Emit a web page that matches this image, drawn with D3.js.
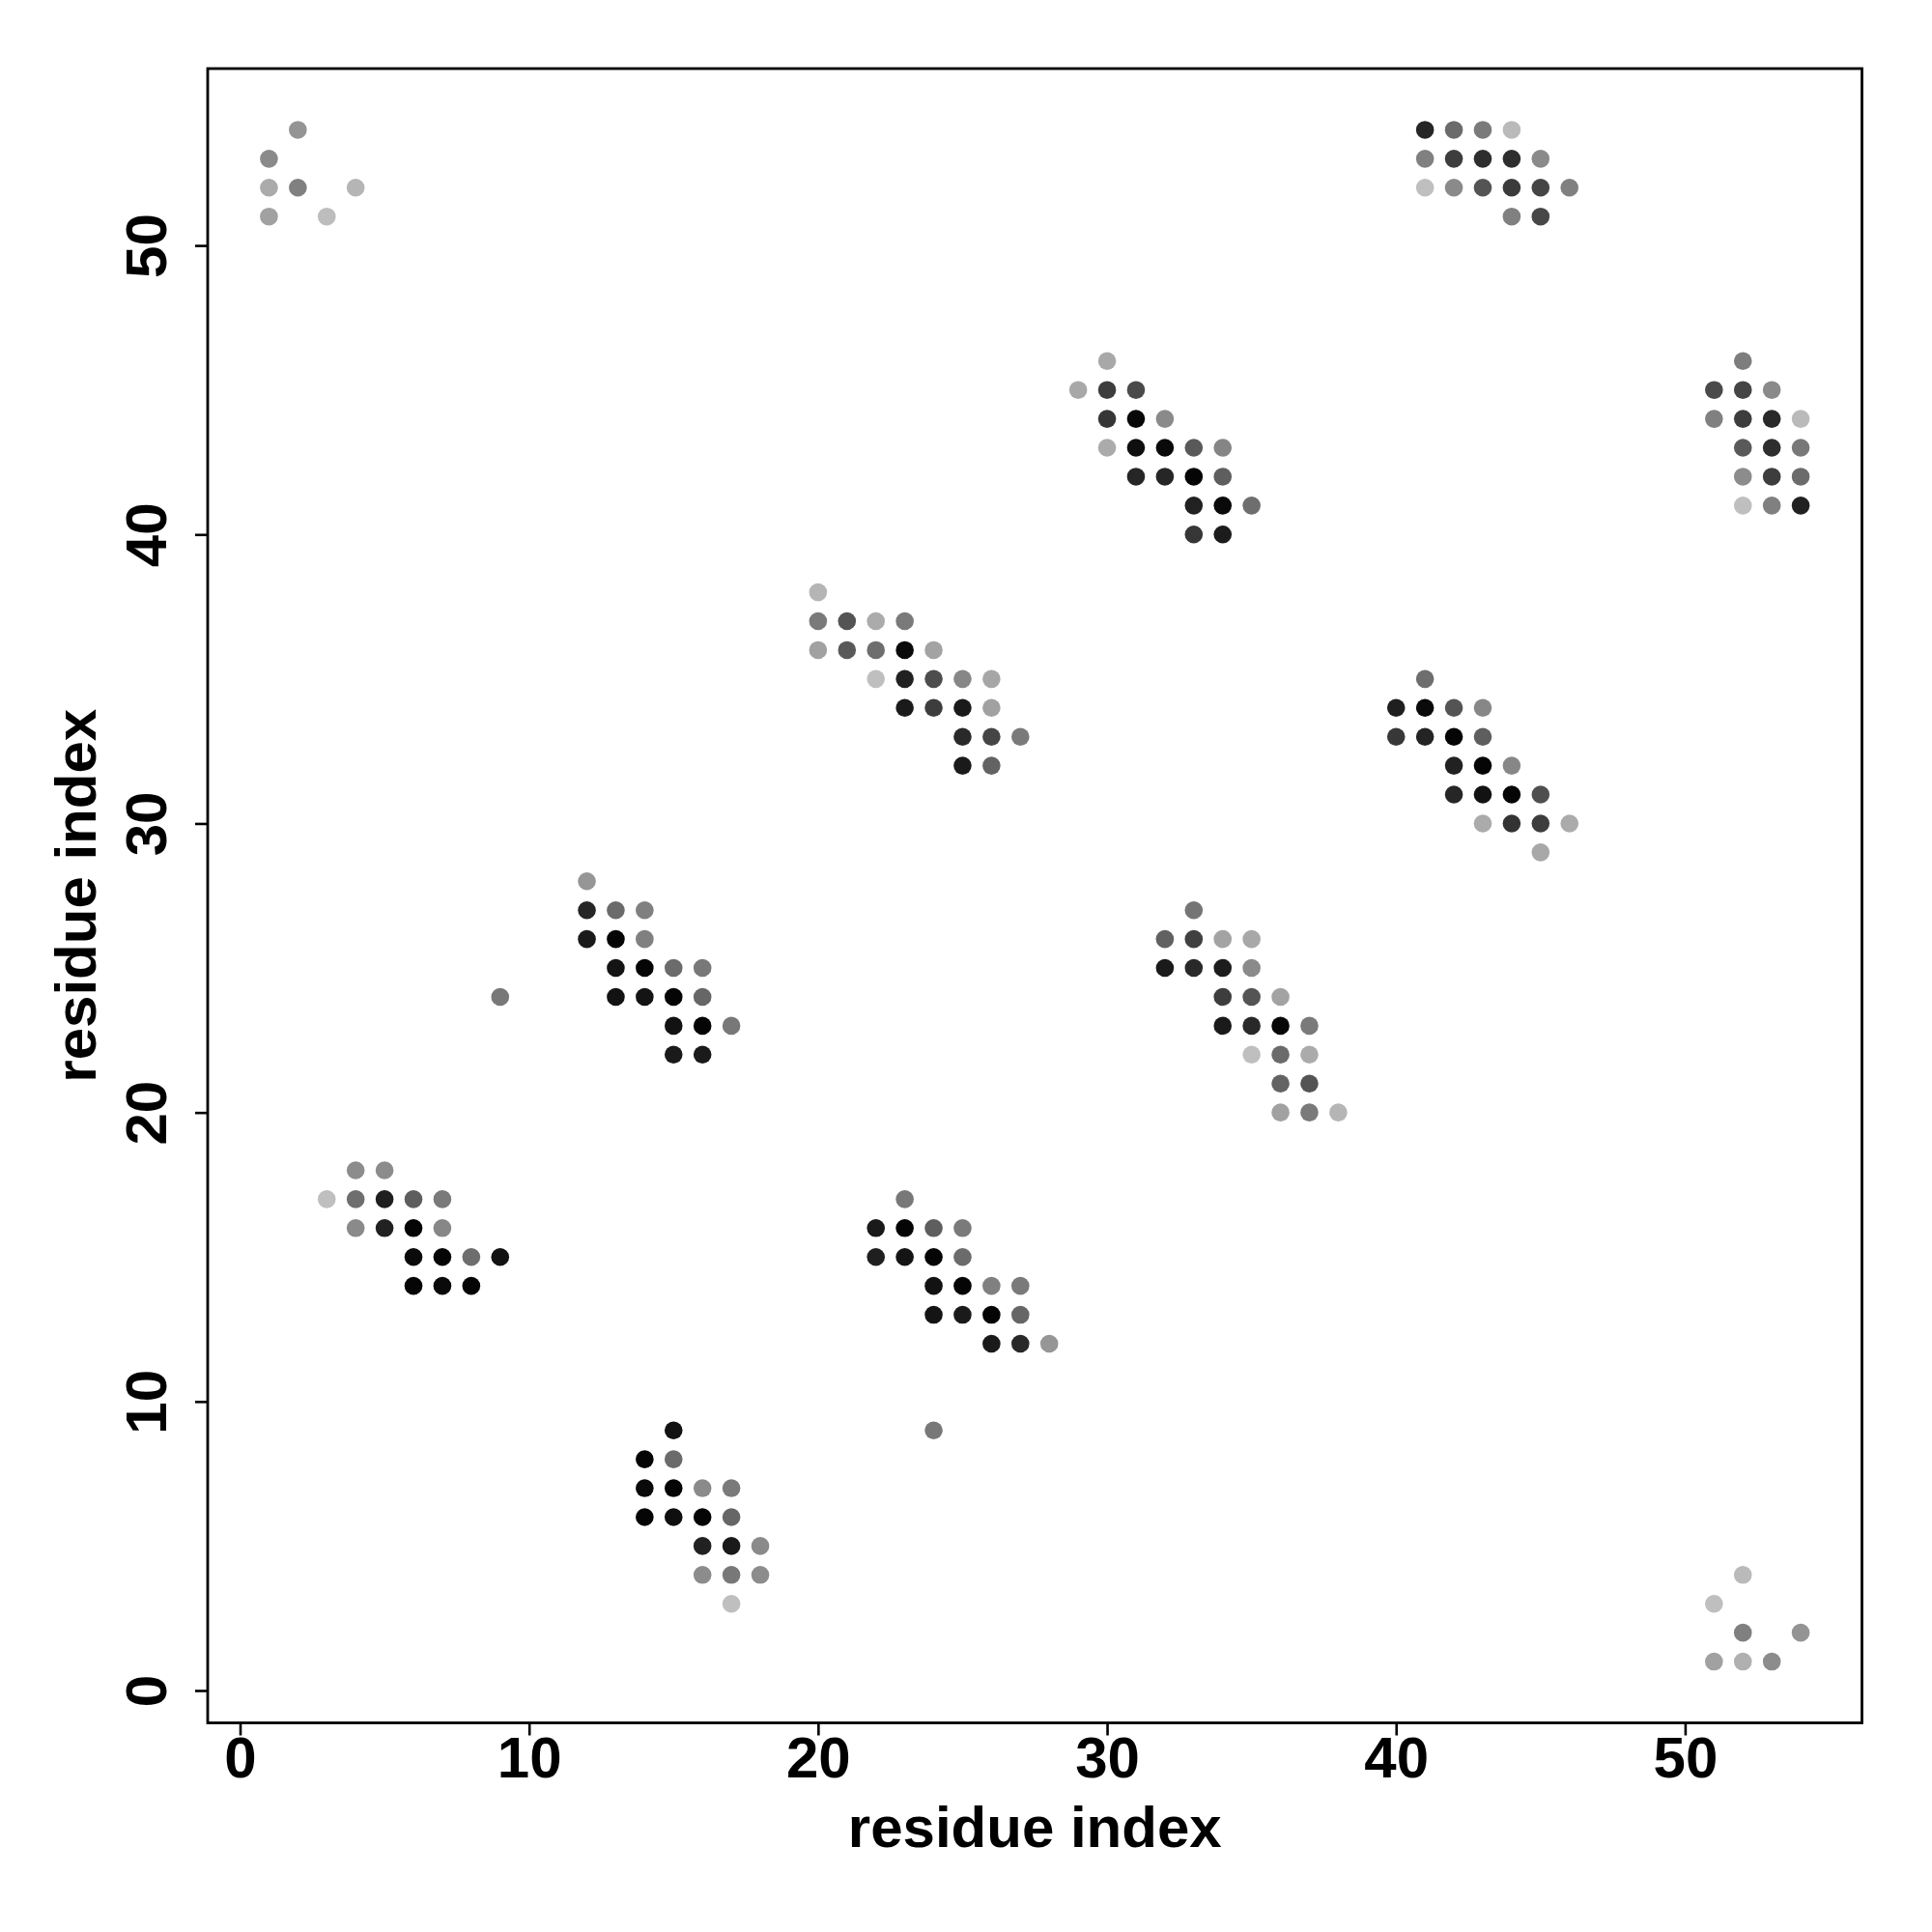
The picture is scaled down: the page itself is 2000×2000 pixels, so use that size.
<!DOCTYPE html>
<html>
<head>
<meta charset="utf-8">
<script src="https://cdn.jsdelivr.net/npm/d3@7"></script>
<style>
  html, body { margin: 0; padding: 0; background: #fff; }
  svg { display: block; }
</style>
</head>
<body>
<svg id="chart" width="2000" height="2000"></svg>
<script>
// residue i (x), residue j (y), grey level of the dot (0 = black, 1 = white)
const resX = [
  2,1,1,2,4,1,3,
  30,29,30,31,30,31,32,30,31,32,33,34,31,32,33,34,33,34,35,33,34,
  20,20,21,22,23,20,21,22,23,24,22,23,24,25,26,23,24,25,26,25,26,27,25,26,
  33,32,33,34,35,32,33,34,35,34,35,36,34,35,36,37,35,36,37,36,37,36,37,38,
  41,40,41,42,43,40,41,42,43,42,43,44,42,43,44,45,43,44,45,46,45,
  41,42,43,44,41,42,43,44,45,41,42,43,44,45,46,44,45,
  52,51,52,53,51,52,53,54,52,53,54,52,53,54,52,53,54,
  12,12,13,14,12,13,14,13,14,15,16,9,13,14,15,16,15,16,17,15,16,
  4,5,3,4,5,6,7,4,5,6,7,6,7,8,9,6,7,8,
  15,14,15,14,15,16,17,14,15,16,17,16,17,18,16,17,18,17,
  23,22,23,24,25,22,23,24,25,24,25,26,27,24,25,26,27,26,27,28,24,
  52,51,52,54,51,52,53
];
const resY = [
  54,53,52,52,52,51,51,
  46,45,45,45,44,44,44,43,43,43,43,43,42,42,42,42,41,41,41,40,40,
  38,37,37,37,37,36,36,36,36,36,35,35,35,35,35,34,34,34,34,33,33,33,32,32,
  27,26,26,26,26,25,25,25,25,24,24,24,23,23,23,23,22,22,22,21,21,20,20,20,
  35,34,34,34,34,33,33,33,33,32,32,32,31,31,31,31,30,30,30,30,29,
  54,54,54,54,53,53,53,53,53,52,52,52,52,52,52,51,51,
  46,45,45,45,44,44,44,44,43,43,43,42,42,42,41,41,41,
  28,27,27,27,26,26,26,25,25,25,25,24,24,24,24,24,23,23,23,22,22,
  18,18,17,17,17,17,17,16,16,16,16,15,15,15,15,14,14,14,
  9,8,8,7,7,7,7,6,6,6,6,5,5,5,4,4,4,3,
  17,16,16,16,16,15,15,15,15,14,14,14,14,13,13,13,13,12,12,12,9,
  4,3,2,2,1,1,1
];
const grey = [
  .58,.54,.67,.50,.71,.63,.74,
  .66,.66,.24,.29,.21,.03,.54,.67,.06,.04,.35,.52,.15,.15,.02,.37,.13,.04,.43,.21,.11,
  .71,.48,.33,.67,.48,.63,.35,.43,.04,.64,.75,.13,.30,.53,.65,.10,.24,.10,.63,.16,.27,.48,.10,.39,
  .46,.38,.25,.64,.66,.10,.16,.11,.54,.24,.33,.64,.10,.16,.03,.48,.75,.42,.67,.39,.33,.63,.48,.71,
  .43,.12,.04,.33,.53,.22,.14,.02,.37,.13,.02,.53,.15,.07,.02,.31,.67,.20,.24,.67,.66,
  .15,.42,.48,.73,.50,.24,.18,.18,.54,.75,.54,.33,.23,.27,.50,.50,.28,
  .49,.29,.27,.54,.50,.24,.16,.73,.35,.18,.47,.55,.24,.42,.75,.50,.13,
  .59,.15,.42,.50,.10,.02,.50,.08,.02,.42,.47,.47,.07,.08,.02,.40,.07,.02,.47,.10,.10,
  .55,.55,.75,.43,.12,.37,.48,.54,.13,.02,.53,.04,.02,.43,.07,.02,.04,.02,
  .07,.02,.42,.04,.02,.54,.48,.02,.06,.02,.40,.13,.10,.54,.55,.47,.55,.75,
  .47,.10,.02,.37,.48,.12,.08,.02,.42,.07,.02,.50,.48,.08,.10,.02,.40,.10,.16,.59,.47,
  .73,.75,.50,.58,.63,.69,.55
];
const tickValues = [0, 10, 20, 30, 40, 50];
const axisTitleX = "residue index";
const axisTitleY = "residue index";

const points = resX.map((x, i) => ({ x, y: resY[i], g: grey[i] }));

const plot = { left: 215, right: 1927.5, top: 71, bottom: 1783.5 };
const pad = (54 - 1) * 0.04;

const x = d3.scaleLinear().domain([1 - pad, 54 + pad]).range([plot.left, plot.right]);
const y = d3.scaleLinear().domain([1 - pad, 54 + pad]).range([plot.bottom, plot.top]);
const shade = d3.scaleLinear().domain([0, 1]).range(["#000000", "#ffffff"]);

const svg = d3.select("#chart");
const font = "'Liberation Sans', Arial, Helvetica, sans-serif";

svg.append("rect").attr("width", 2000).attr("height", 2000).attr("fill", "#fff");

svg.append("g")
  .selectAll("circle")
  .data(points)
  .join("circle")
  .attr("cx", d => x(d.x))
  .attr("cy", d => y(d.y))
  .attr("r", 9.3)
  .attr("fill", d => shade(d.g));

// x axis
const gx = svg.append("g")
  .attr("transform", `translate(0,${plot.bottom})`)
  .call(d3.axisBottom(x).tickValues(tickValues).tickSize(13).tickFormat(d3.format("d")));
gx.select(".domain").remove();
gx.selectAll(".tick line").attr("stroke", "#000").attr("stroke-width", 2.6);
gx.selectAll(".tick text")
  .attr("y", 56.5).attr("dy", null)
  .attr("fill", "#000")
  .style("font-family", font).style("font-size", "60px").style("font-weight", "bold");

// y axis
const gy = svg.append("g")
  .attr("transform", `translate(${plot.left},0)`)
  .call(d3.axisLeft(y).tickValues(tickValues).tickSize(13).tickFormat(d3.format("d")));
gy.select(".domain").remove();
gy.selectAll(".tick line").attr("stroke", "#000").attr("stroke-width", 2.6);
gy.selectAll(".tick text")
  .attr("x", null).attr("dy", null)
  .attr("transform", "translate(-43,0) rotate(-90)")
  .attr("text-anchor", "middle")
  .attr("fill", "#000")
  .style("font-family", font).style("font-size", "60px").style("font-weight", "bold");

// box
svg.append("rect")
  .attr("x", plot.left).attr("y", plot.top)
  .attr("width", plot.right - plot.left).attr("height", plot.bottom - plot.top)
  .attr("fill", "none").attr("stroke", "#000").attr("stroke-width", 2.8);

// titles
svg.append("text")
  .attr("x", (plot.left + plot.right) / 2).attr("y", 1912)
  .attr("text-anchor", "middle")
  .style("font-family", font).style("font-size", "60px").style("font-weight", "bold")
  .text(axisTitleX);

svg.append("text")
  .attr("transform", `translate(99,${(plot.top + plot.bottom) / 2}) rotate(-90)`)
  .attr("text-anchor", "middle")
  .style("font-family", font).style("font-size", "60px").style("font-weight", "bold")
  .text(axisTitleY);
</script>
</body>
</html>
